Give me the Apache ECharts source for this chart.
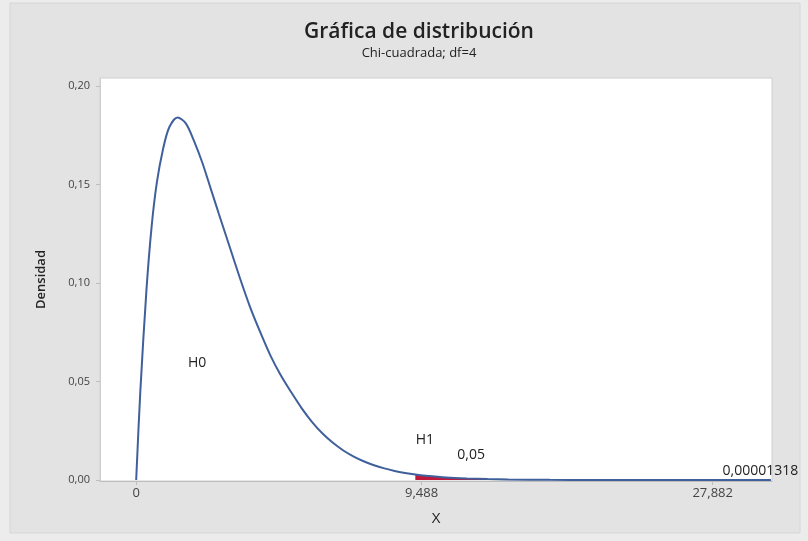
<!DOCTYPE html>
<html>
<head>
<meta charset="utf-8">
<script src="https://cdn.jsdelivr.net/npm/echarts@6/dist/echarts.min.js"></script>
<style>
  html, body { margin: 0; padding: 0; background: #ececec; }
  #chart { width: 808px; height: 541px; }
</style>
</head>
<body>
<div id="chart"></div>
<script>
// curva (x, densidad)
const curveX = [0, 0.2, 0.5, 0.75, 1.0, 1.3, 1.6, 2.0, 2.4, 2.8, 3.2, 3.6, 4.0, 4.5, 5.0, 5.5, 6.0, 6.5, 7.0, 7.5,
  8.0, 8.5, 9.0, 9.5, 10.0, 10.5, 11.0, 11.5, 12.0, 12.5, 13.0, 13.5, 14.0, 15.0, 16.0, 17.0, 18.0, 20.0, 22.0, 25.0, 28.0, 30.7]
const curveY = [0, 0.045, 0.097, 0.129, 0.151, 0.168, 0.179, 0.184, 0.181, 0.172, 0.161, 0.148, 0.135, 0.119, 0.103, 0.088, 0.075, 0.063, 0.053, 0.0445,
  0.0365, 0.0295, 0.0237, 0.019, 0.0151, 0.012, 0.0095, 0.0075, 0.0059, 0.0046, 0.0036, 0.0028, 0.0022, 0.0013, 0.0008, 0.0005, 0.0003, 0.0001, 0.00004, 0.00001, 0.000003, 0.000001]

// región sombreada (cola derecha)
const shadeStart = 13.5

// marcas de los ejes
const xTickValues = [0, 13.8, 27.882]
const xTickLabels = ['0', '9,488', '27,882']
const yTickValues = [0, 0.05, 0.1, 0.15, 0.2]
const yTickLabels = ['0,00', '0,05', '0,10', '0,15', '0,20']

// textos dentro del gráfico
const noteText = ['H0', 'H1', '0,05', '0,00001318']
const noteX = [2.95, 13.96, 16.2, 28.36]
const noteY = [0.0594, 0.0203, 0.0127, 0.0046]
const noteAlign = ['center', 'center', 'center', 'left']

const curveData = curveX.map((x, i) => [x, curveY[i]])
const shadeData = curveData.filter(([x]) => x >= shadeStart)

const font = '"Open Sans", "Noto Sans", sans-serif'

const chart = echarts.init(document.getElementById('chart'))

const option = {
  backgroundColor: '#ececec',
  animation: false,
  textStyle: { fontFamily: font },
  title: {
    text: 'Gráfica de distribución',
    subtext: 'Chi-cuadrada; df=4',
    left: 414,
    top: 17,
    textAlign: 'center',
    itemGap: 4,
    textStyle: { fontFamily: font, fontSize: 21, fontWeight: 600, color: '#222' },
    subtextStyle: { fontFamily: font, fontSize: 13, color: '#222' }
  },
  graphic: [
    {
      type: 'rect',
      z: -10,
      shape: { x: 10, y: 3, width: 790, height: 530 },
      style: { fill: '#e3e3e3', stroke: '#d6d6d6', lineWidth: 1 }
    }
  ],
  grid: {
    left: 100,
    right: 36,
    top: 78,
    bottom: 60,
    show: true,
    backgroundColor: '#ffffff',
    borderColor: '#cfcfcf',
    borderWidth: 1
  },
  xAxis: {
    type: 'value',
    min: -1.75,
    max: 30.75,
    name: 'X',
    nameLocation: 'middle',
    nameGap: 30,
    nameTextStyle: { fontSize: 15, color: '#222' },
    axisLine: { show: true, onZero: false, lineStyle: { color: '#bdbdbd' } },
    axisTick: { show: true, length: 4, customValues: xTickValues, lineStyle: { color: '#bdbdbd' } },
    axisLabel: {
      customValues: xTickValues,
      fontSize: 13,
      color: '#444',
      margin: 6,
      formatter: (v) => xTickLabels[xTickValues.indexOf(v)]
    },
    splitLine: { show: false }
  },
  yAxis: {
    type: 'value',
    min: -0.0005,
    max: 0.204,
    name: 'Densidad',
    nameLocation: 'middle',
    nameGap: 52,
    nameTextStyle: { fontSize: 13, color: '#222', fontWeight: 600 },
    axisLine: { show: true, onZero: false, lineStyle: { color: '#cfcfcf' } },
    axisTick: { show: true, length: 4, customValues: yTickValues, lineStyle: { color: '#bdbdbd' } },
    axisLabel: {
      customValues: yTickValues,
      fontSize: 11,
      color: '#444',
      margin: 10,
      formatter: (v) => yTickLabels[yTickValues.indexOf(v)]
    },
    splitLine: { show: false }
  },
  series: [
    {
      name: 'cola',
      type: 'line',
      data: shadeData,
      smooth: 0.3,
      showSymbol: false,
      lineStyle: { width: 0 },
      areaStyle: { color: '#c0183a', opacity: 1 },
      z: 1
    },
    {
      name: 'Chi-cuadrada',
      type: 'line',
      data: curveData,
      smooth: 0.3,
      showSymbol: false,
      lineStyle: { color: '#40609c', width: 2 },
      z: 3,
      markPoint: {
        symbol: 'circle',
        symbolSize: 0,
        silent: true,
        label: { show: true },
        data: noteText.map((t, i) => ({
          coord: [noteX[i], noteY[i]],
          label: {
            formatter: t,
            position: 'inside',
            align: noteAlign[i],
            verticalAlign: 'middle',
            fontSize: 14,
            color: '#222',
            fontFamily: font
          }
        }))
      }
    }
  ]
}

chart.setOption(option)
</script>
</body>
</html>
